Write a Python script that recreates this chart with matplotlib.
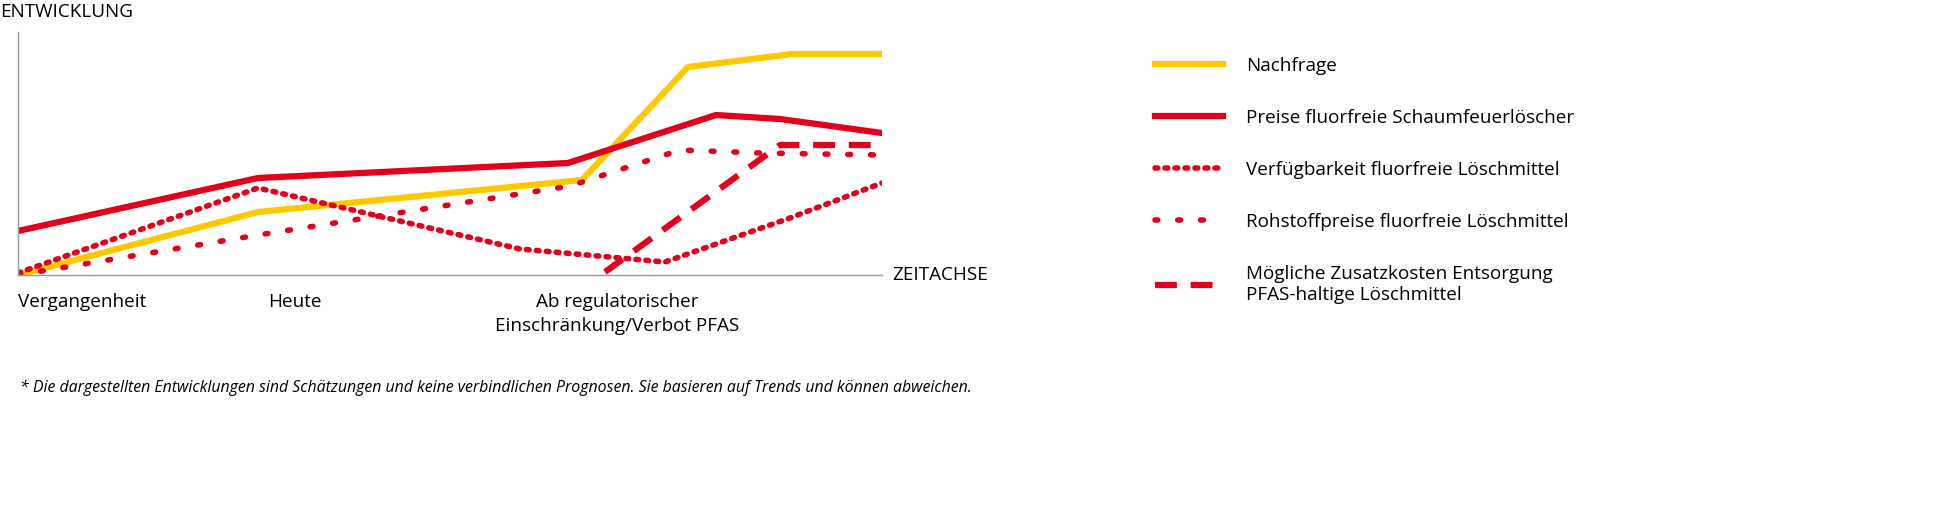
import matplotlib.pyplot as plt

plt.rcParams['font.family'] = ['Open Sans', 'DejaVu Sans']

YELLOW = '#fcc800'
RED = '#e2001a'

# values (x: time position, y: development level)
nachfrage_x = [0, 240, 564, 670, 774, 864]
nachfrage_y = [0, 63, 95, 208, 221, 221]
preise_x = [0, 240, 550, 698, 762, 864]
preise_y = [44, 97, 112, 160, 156, 142]
verfueg_x = [0, 240, 502, 647, 772, 864]
verfueg_y = [2, 87, 26, 13, 57, 92]
rohstoff_x = [0, 240, 552, 662, 742, 864]
rohstoff_y = [0, 40, 89, 125, 122, 120]
entsorg_x = [587, 762, 864]
entsorg_y = [3, 130, 130]

tick_pos = [0, 277, 599]
tick_labels = ['Vergangenheit', 'Heute', 'Ab regulatorischer\nEinschränkung/Verbot PFAS']

W, H = 1957, 516
fig = plt.figure(figsize=(W / 100, H / 100), dpi=100)
ax = fig.add_axes([18 / W, 1 - 275 / H, 864 / W, 243 / H])
ax.set_xlim(0, 864)
ax.set_ylim(0, 243)

lw = 4.5
ax.plot(nachfrage_x, nachfrage_y, color=YELLOW, lw=lw, label='Nachfrage')
ax.plot(preise_x, preise_y, color=RED, lw=lw, label='Preise fluorfreie Schaumfeuerlöscher')
ax.plot(verfueg_x, verfueg_y, color=RED, lw=4, ls=(0, (0.5, 1.3)), dash_capstyle='round',
        label='Verfügbarkeit fluorfreie Löschmittel')
ax.plot(rohstoff_x, rohstoff_y, color=RED, lw=4, ls=(0, (0.5, 3.6)), dash_capstyle='round',
        label='Rohstoffpreise fluorfreie Löschmittel')
ax.plot(entsorg_x, entsorg_y, color=RED, lw=lw, ls=(0, (3.5, 2.2)),
        label='Mögliche Zusatzkosten Entsorgung\nPFAS-haltige Löschmittel')

for s in ['top', 'right']:
    ax.spines[s].set_visible(False)
for s in ['left', 'bottom']:
    ax.spines[s].set_color('#999999')
    ax.spines[s].set_linewidth(1)
ax.set_yticks([])
ax.set_xticks([])

fs = 13.6
ax.text(0, -18, tick_labels[0], ha='left', va='top', fontsize=fs)
ax.text(tick_pos[1], -18, tick_labels[1], ha='center', va='top', fontsize=fs)
ax.text(tick_pos[2], -18, tick_labels[2], ha='center', va='top', fontsize=fs, linespacing=1.4)
ax.text(874, 0, 'ZEITACHSE', ha='left', va='center', fontsize=fs)
fig.text(0, 1 - 12 / H, 'ENTWICKLUNG', ha='left', va='center', fontsize=fs)
fig.text(20 / W, 1 - 388 / H,
         '* Die dargestellten Entwicklungen sind Schätzungen und keine verbindlichen Prognosen. '
         'Sie basieren auf Trends und können abweichen.',
         ha='left', va='center', fontsize=11.4, style='italic')

leg = ax.legend(loc='upper left', bbox_to_anchor=(1138 / W, 1 - 40 / H),
                bbox_transform=fig.transFigure, frameon=False, fontsize=fs,
                handlelength=3.6, handletextpad=1.2, labelspacing=1.8)
fig.savefig('out.png', dpi=100)
